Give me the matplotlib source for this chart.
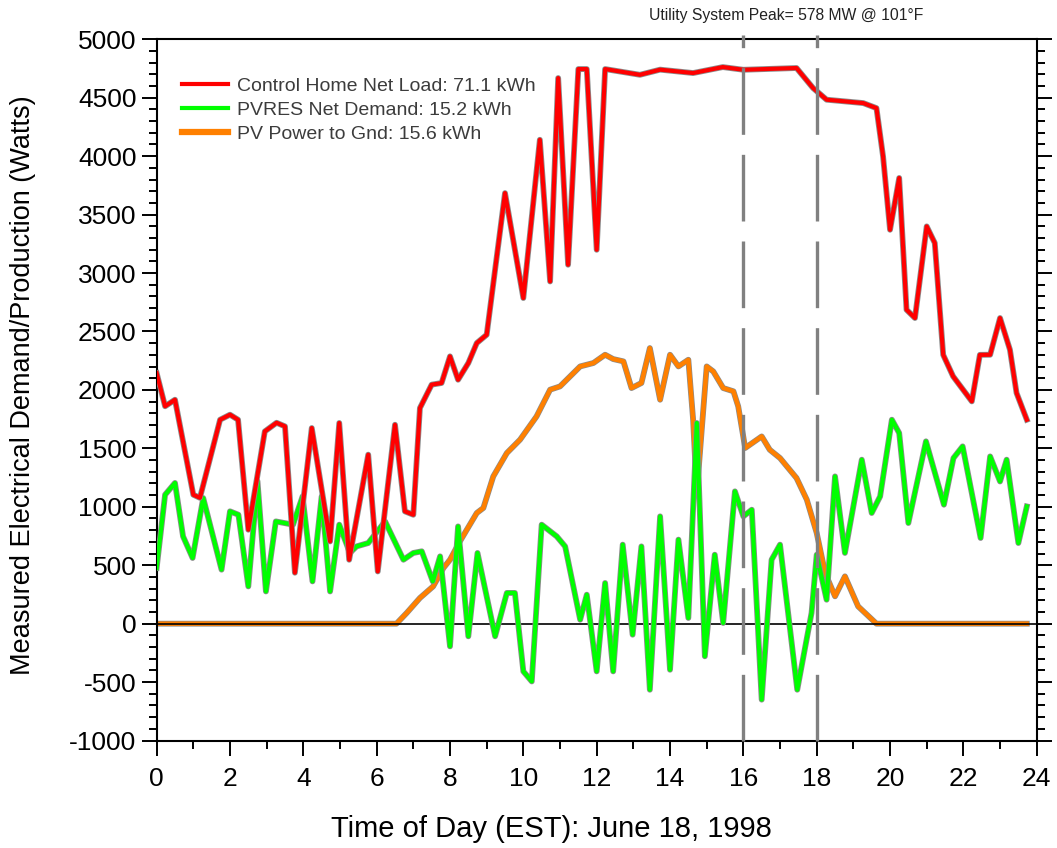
import matplotlib
matplotlib.use('Agg')
import matplotlib.pyplot as plt
import matplotlib.patheffects as pe
from matplotlib.ticker import MultipleLocator

plt.rcParams['font.family'] = ['Liberation Sans', 'DejaVu Sans']
plt.rcParams['axes.unicode_minus'] = False

# Control home net load (W) vs hour
load_hr = [0.00, 0.23, 0.50, 1.00, 1.18, 1.73, 2.00, 2.22, 2.50, 2.95, 3.27, 3.50,
           3.77, 4.23, 4.73, 4.98, 5.25, 5.77, 6.03, 6.50, 6.77, 7.00, 7.18, 7.50,
           7.77, 8.00, 8.22, 8.50, 8.73, 9.00, 9.50, 10.00, 10.45, 10.73, 10.95,
           11.22, 11.50, 11.73, 12.00, 12.23, 13.18, 13.73, 14.63, 15.44, 16.00,
           17.45, 17.90, 18.27, 19.27, 19.63, 19.81, 20.00, 20.25, 20.45, 20.68,
           21.00, 21.22, 21.45, 21.72, 22.23, 22.45, 22.73, 23.00, 23.27, 23.45, 23.73]
load_w = [2144, 1860, 1916, 1103, 1077, 1745, 1788, 1745, 804, 1645, 1719, 1688,
          436, 1674, 704, 1717, 547, 1446, 447, 1702, 961, 932, 1845, 2045,
          2059, 2287, 2087, 2230, 2401, 2472, 3684, 2786, 4140, 2928, 4668,
          3071, 4745, 4745, 3199, 4745, 4696, 4740, 4711, 4762, 4739,
          4754, 4583, 4483, 4454, 4411, 3998, 3370, 3813, 2686, 2615,
          3399, 3257, 2300, 2116, 1902, 2300, 2301, 2615, 2344, 1974, 1745]

# PVRES net demand (W)
pvres_hr = [0.00, 0.23, 0.50, 0.72, 0.98, 1.27, 1.77, 2.00, 2.23, 2.50, 2.75, 2.98,
            3.25, 3.72, 3.98, 4.25, 4.50, 4.73, 4.98, 5.27, 5.45, 5.77, 6.23, 6.73,
            7.00, 7.23, 7.53, 7.73, 8.00, 8.22, 8.50, 8.75, 9.23, 9.55, 9.77, 10.00,
            10.23, 10.50, 10.91, 11.14, 11.55, 11.73, 12.00, 12.23, 12.45, 12.71,
            12.98, 13.22, 13.45, 13.73, 14.00, 14.23, 14.50, 14.73, 14.95, 15.22,
            15.45, 15.77, 16.00, 16.23, 16.50, 16.77, 17.00, 17.47, 17.86, 18.00,
            18.27, 18.50, 18.77, 19.23, 19.50, 19.73, 20.05, 20.25, 20.50, 20.98,
            21.47, 21.73, 21.98, 22.47, 22.73, 23.00, 23.18, 23.50, 23.73]
pvres_w = [476, 1103, 1204, 747, 562, 1075, 462, 961, 932, 319, 1219, 276,
           875, 847, 1089, 362, 1089, 276, 847, 605, 661, 690, 875, 547,
           605, 619, 362, 576, -194, 832, -108, 605, -108, 263, 263, -408,
           -494, 847, 747, 661, 34, 248, -408, 348, -408, 676,
           -94, 661, -565, 918, -394, 719, 49, 1717, -279, 590,
           6, 1132, 918, 975, -650, 547, 676, -565, 92, 590,
           205, 1260, 605, 1403, 947, 1089, 1745, 1631, 861, 1560,
           1018, 1417, 1517, 733, 1431, 1217, 1403, 690, 1003]

# PV power to grid (W)
pv_hr = [0.00, 6.54, 6.82, 7.18, 7.54, 7.82, 8.00, 8.27, 8.73, 8.91, 9.18, 9.55,
         9.91, 10.36, 10.73, 11.00, 11.55, 11.91, 12.23, 12.45, 12.73, 12.95,
         13.22, 13.45, 13.73, 14.00, 14.23, 14.50, 14.63, 14.73, 15.00, 15.18,
         15.45, 15.73, 15.86, 16.05, 16.50, 16.72, 17.00, 17.45, 17.73, 18.00,
         18.23, 18.50, 18.77, 19.13, 19.63, 23.73]
pv_w = [0, 0, 92, 220, 319, 476, 547, 704, 947, 990, 1260, 1460,
        1574, 1773, 2002, 2030, 2201, 2230, 2301, 2264, 2244, 2016,
        2059, 2358, 1916, 2301, 2201, 2258, 1745, 1117, 2201, 2158,
        2016, 1988, 1859, 1503, 1602, 1488, 1417, 1246, 1061, 776,
        434, 234, 405, 148, 0, 0]

labels = ['Control Home Net Load: 71.1 kWh',
          'PVRES Net Demand: 15.2 kWh',
          'PV Power to Gnd: 15.6 kWh']

fig = plt.figure(figsize=(10.57, 8.48), dpi=100)
ax = fig.add_axes([0.1482, 0.1267, 0.8326, 0.827])

edge = [pe.Stroke(linewidth=4.2, foreground='#8c8c8c'), pe.Normal()]
l3, = ax.plot(pv_hr, pv_w, color='#ff8000', lw=3.2, zorder=2, path_effects=edge)
ax.axhline(0, color='black', lw=1.2, zorder=2.5)
l2, = ax.plot(pvres_hr, pvres_w, color='#00ff00', lw=3.0, zorder=3, path_effects=edge)
l1, = ax.plot(load_hr, load_w, color='#ff0000', lw=3.0, zorder=4, path_effects=edge)

for xv in (16, 18):
    ax.axvline(xv, ymax=1.006, color='#808080', lw=2.4, linestyle=(0, (20, 6)),
               zorder=5, clip_on=False)

ax.set_xlim(0, 24)
ax.set_ylim(-1000, 5000)
ax.xaxis.set_major_locator(MultipleLocator(2))
ax.xaxis.set_minor_locator(MultipleLocator(1))
ax.yaxis.set_major_locator(MultipleLocator(500))
ax.yaxis.set_minor_locator(MultipleLocator(100))
ax.tick_params(which='both', direction='out', width=1.4, labelsize=19)
ax.tick_params(which='major', length=11)
ax.tick_params(which='minor', length=6)
ax.tick_params(axis='y', which='both', right=True)
ax.tick_params(axis='x', pad=8)
for s in ax.spines.values():
    s.set_linewidth(1.5)

ax.set_xlabel('Time of Day (EST): June 18, 1998', fontsize=21)
ax.set_ylabel('Measured Electrical Demand/Production (Watts)', fontsize=19.5)
ax.xaxis.set_label_coords(0.449, -0.106)
ax.yaxis.set_label_coords(-0.137, 0.507)

leg = ax.legend([l1, l2, l3], labels, loc='upper left', bbox_to_anchor=(0.009, 0.971),
                frameon=False, fontsize=14, handlelength=2.35, handletextpad=0.5,
                labelspacing=0.33, labelcolor='#3c3c3c')
for h, w in zip(leg.get_lines(), (3.0, 3.0, 4.5)):
    h.set_linewidth(w)
    h.set_path_effects([])

fig.text(0.744, 0.982, 'Utility System Peak= 578 MW @ 101\u00b0F', fontsize=11.3,
         ha='center', va='center', color='#222222')

fig.savefig('out.png', dpi=100)
